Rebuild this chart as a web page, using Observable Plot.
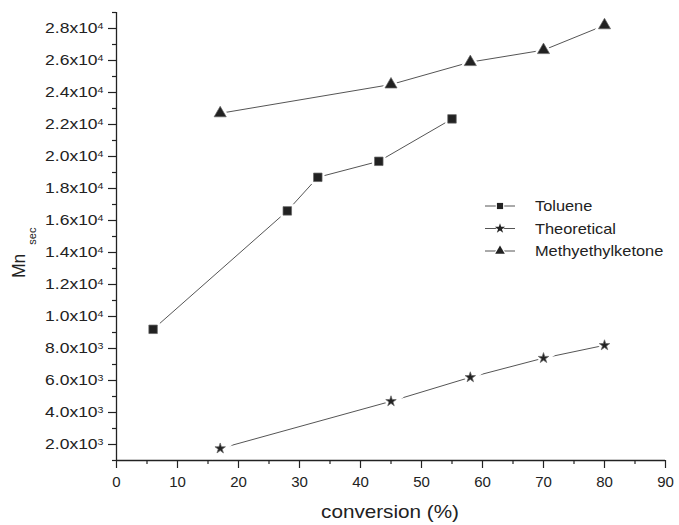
<!DOCTYPE html>
<html><head><meta charset="utf-8">
<script src="https://cdn.jsdelivr.net/npm/d3@7"></script>
<script src="https://cdn.jsdelivr.net/npm/@observablehq/plot@0.6"></script>
<style>
body{margin:0;background:#fff}
#chart svg{display:block}
</style></head><body><div id="chart"></div>
<script>
// ---- data ----
const seriesNames = ["Toluene", "Theoretical", "Methyethylketone"];
const seriesSymbols = ["square", "star", "triangle"];
const conversionToluene = [6, 28, 33, 43, 55];
const mnToluene = [9200, 16600, 18700, 19700, 22350];
const conversionTheoretical = [17, 45, 58, 70, 80];
const mnTheoretical = [1750, 4700, 6200, 7400, 8200];
const conversionMEK = [17, 45, 58, 70, 80];
const mnMEK = [22700, 24500, 25900, 26650, 28200];

const xMajorTicks = [0, 10, 20, 30, 40, 50, 60, 70, 80, 90];
const xMinorTicks = [5, 15, 25, 35, 45, 55, 65, 75, 85];
const yMajorTicks = [2000, 4000, 6000, 8000, 10000, 12000, 14000, 16000, 18000, 20000, 22000, 24000, 26000, 28000];
const yMajorLabels = ["2.0x10^3", "4.0x10^3", "6.0x10^3", "8.0x10^3", "1.0x10^4", "1.2x10^4", "1.4x10^4", "1.6x10^4", "1.8x10^4", "2.0x10^4", "2.2x10^4", "2.4x10^4", "2.6x10^4", "2.8x10^4"];
const yMinorTicks = [1000, 3000, 5000, 7000, 9000, 11000, 13000, 15000, 17000, 19000, 21000, 23000, 25000, 27000, 29000];
const xTitle = "conversion (%)";
const yTitleMain = "Mn";
const yTitleSub = "sec";

// ---- build table ----
const seriesX = [conversionToluene, conversionTheoretical, conversionMEK];
const seriesY = [mnToluene, mnTheoretical, mnMEK];
const rows = [];
seriesNames.forEach((name, i) => {
  seriesX[i].forEach((x, j) => rows.push({series: name, symbol: seriesSymbols[i], x, y: seriesY[i][j]}));
});

const dotR = {square: 4.8, star: 3.3, triangle: 4.5};
const ink = "#222";

const marks = [
  Plot.ruleX([0], {y1: 1000, y2: 29000, stroke: ink, strokeWidth: 1.3}),
  Plot.ruleY([1000], {x1: 0, x2: 90, stroke: ink, strokeWidth: 1.3}),
  Plot.axisX(xMajorTicks, {tickSize: 8, tickPadding: 8, fontSize: 15, label: null, stroke: ink, strokeWidth: 1.2, fill: ink}),
  Plot.axisX(xMinorTicks, {tickSize: 4, tickFormat: () => "", label: null, stroke: ink, strokeWidth: 1.2}),
  Plot.axisY(yMajorTicks, {tickSize: 8, tickPadding: 5, fontSize: 14, label: null, stroke: ink, strokeWidth: 1.2, fill: ink,
    tickFormat: d => yMajorLabels[yMajorTicks.indexOf(d)]}),
  Plot.axisY(yMinorTicks, {tickSize: 4, tickFormat: () => "", label: null, stroke: ink, strokeWidth: 1.2}),
  Plot.line(rows, {x: "x", y: "y", z: "series", stroke: "#555", strokeWidth: 1})
];
seriesNames.forEach((name, i) => {
  const sym = seriesSymbols[i];
  const sub = rows.filter(d => d.series === name);
  marks.push(Plot.dot(sub, {x: "x", y: "y", symbol: sym, r: dotR[sym], fill: "white", stroke: "white", strokeWidth: 5}));
  marks.push(Plot.dot(sub, {x: "x", y: "y", symbol: sym, r: dotR[sym], fill: ink, stroke: "#666", strokeWidth: 0.7}));
});

const svg = Plot.plot({
  width: 679, height: 525,
  marginLeft: 116, marginRight: 14, marginTop: 12, marginBottom: 65,
  style: {fontFamily: "'Liberation Sans', Arial, sans-serif", color: ink, background: "white"},
  x: {domain: [0, 90], label: null},
  y: {domain: [1000, 29000], label: null},
  marks
});

const S = d3.select(svg);
function stretch(sel, sx) {
  sel.each(function () {
    const x = parseFloat(this.getAttribute("x")) || 0;
    const t = this.getAttribute("transform") || "";
    this.setAttribute("transform", `${t} translate(${x},0) scale(${sx},1) translate(${-x},0)`);
  });
}
// superscripts on y tick labels
const yLabels = S.selectAll('g[aria-label="y-axis tick label"] text');
yLabels.each(function () {
  const s = this.textContent;
  const parts = s.split("^");
  if (parts.length === 2) {
    this.textContent = parts[0];
    d3.select(this).append("tspan").attr("dy", "-0.5em").attr("font-size", "8.5px").text(parts[1]);
  }
});
stretch(yLabels, 1.25);

// x axis title
const title = S.append("text").attr("x", 390).attr("y", 518).attr("text-anchor", "middle")
  .attr("font-size", 18).attr("fill", ink).text(xTitle);
stretch(title, 1.15);

// y axis title
const yt = S.append("text").attr("transform", "translate(25,278) rotate(-90)")
  .attr("text-anchor", "start").attr("font-size", 17.5).attr("fill", ink);
yt.append("tspan").text(yTitleMain);
yt.append("tspan").attr("dx", 9).attr("dy", 11).attr("font-size", 11).text(yTitleSub);

// legend
const legendSizes = {square: 38, star: 32, triangle: 40};
const symMap = {square: d3.symbolSquare, star: d3.symbolStar, triangle: d3.symbolTriangle};
const lg = S.append("g");
seriesNames.forEach((name, i) => {
  const cy = 206 + i * 22.5;
  const g = lg.append("g").attr("transform", `translate(0,${cy})`);
  g.append("line").attr("x1", 485).attr("x2", 515).attr("y1", 0).attr("y2", 0).attr("stroke", "#555").attr("stroke-width", 1);
  const sym = seriesSymbols[i];
  g.append("path").attr("transform", "translate(500,0)").attr("d", d3.symbol(symMap[sym], legendSizes[sym] * 1.9)()).attr("fill", "white");
  g.append("path").attr("transform", "translate(500,0)").attr("d", d3.symbol(symMap[sym], legendSizes[sym])()).attr("fill", ink);
  const t = g.append("text").attr("x", 535).attr("y", 5).attr("text-anchor", "start").attr("font-size", 14).attr("fill", ink).text(name);
  stretch(t, 1.17);
});

document.getElementById("chart").appendChild(svg);
</script></body></html>
